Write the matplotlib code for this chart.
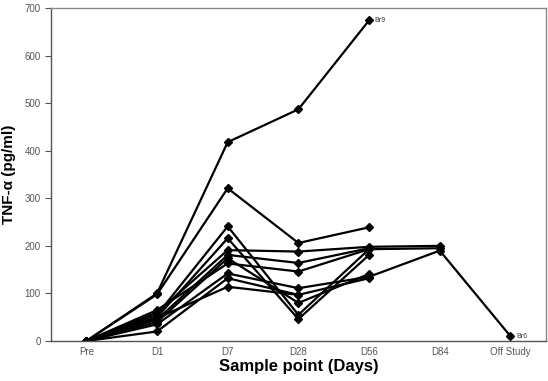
import numpy as np
import matplotlib
matplotlib.use("Agg")
import matplotlib.pyplot as plt

plt.rcParams['font.family'] = ['Liberation Sans', 'DejaVu Sans']

categories = ["Pre", "D1", "D7", "D28", "D56", "D84", "Off Study"]
nan = np.nan
subjects = {
    "Br9": [0, 100, 418, 487, 674, nan, nan],
    "S2":  [0, 98, 321, 206, 239, nan, nan],
    "S3":  [0, 55, 241, 55, 193, nan, nan],
    "S4":  [0, 50, 216, 46, 181, nan, nan],
    "S5":  [0, 60, 191, 188, 198, 200, nan],
    "S6":  [0, 45, 181, 164, 195, nan, nan],
    "S7":  [0, 40, 174, 80, 141, nan, nan],
    "S8":  [0, 65, 163, 146, 193, 195, nan],
    "Br6": [0, 35, 142, 111, 135, 190, 10],
    "S10": [0, 20, 132, 97, 132, nan, nan],
    "S11": [0, 48, 114, 97, nan, nan, nan],
}
labels = {"Br9": 4, "Br6": 6}
yticks = [0, 100, 200, 300, 400, 500, 600, 700]

fig = plt.figure(figsize=(5.48, 3.81), dpi=100)
ax = fig.add_axes([0.093, 0.105, 0.903, 0.874])
x = np.arange(len(categories))
for name, vals in subjects.items():
    v = np.array(vals, dtype=float)
    m = ~np.isnan(v)
    ax.plot(x[m], v[m], color='black', lw=1.6, marker='D', ms=4.5, mfc='black', mec='black')
for name, idx in labels.items():
    ax.annotate(name, (x[idx], subjects[name][idx]), xytext=(4, 0), textcoords='offset points',
                fontsize=5, va='center', ha='left', color='#333333')

ax.set_xlim(-0.5, 6.5)
ax.set_ylim(0, 700)
ax.set_xticks(x)
ax.set_xticklabels(categories)
ax.set_yticks(yticks)
ax.tick_params(axis='x', length=0, labelsize=7, colors='#555555', pad=4)
ax.tick_params(axis='y', length=4, labelsize=7, colors='#555555', width=0.8)
for s in ['left', 'bottom']:
    ax.spines[s].set_color('#555555')
    ax.spines[s].set_linewidth(1.0)
for s in ['top', 'right']:
    ax.spines[s].set_color('#888888')
    ax.spines[s].set_linewidth(1.0)
ax.set_ylabel("TNF-α (pg/ml)", fontsize=11, fontweight='bold', labelpad=6)
ax.set_xlabel("Sample point (Days)", fontsize=12, fontweight='bold', labelpad=2)
fig.savefig("out.png", dpi=100)
